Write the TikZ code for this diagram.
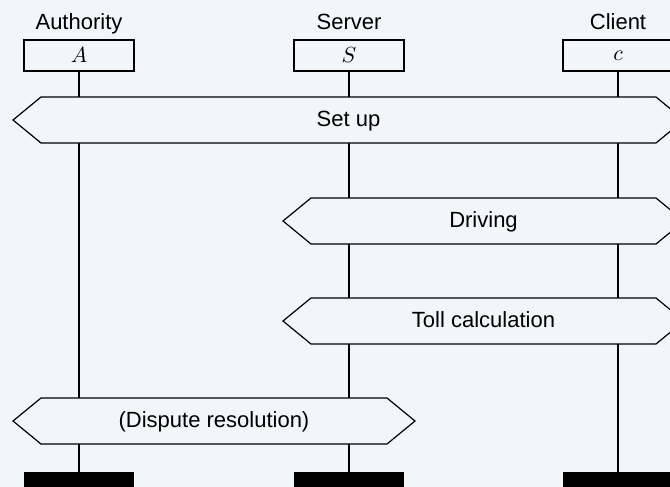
\documentclass[tikz,border=0pt]{standalone}
\usepackage{fontspec}
\setmainfont{Liberation Sans}
\usepackage{tikz}
\usetikzlibrary{calc}
\definecolor{bg}{RGB}{240,246,250}
\tikzset{
  instbox/.style={draw, fill=bg, line width=0.6pt, minimum width=55pt, minimum height=15.5pt, inner sep=0pt},
  instname/.style={inner sep=0pt, anchor=base},
  endbar/.style={fill=black, minimum width=55pt, minimum height=8pt, inner sep=0pt},
  lifeline/.style={line width=0.6pt},
}
% hexagon spanning from tip x #2 to tip x #3, centred at y #4
\def\phase[#1](#2,#3,#4)#5{\draw[line width=0.6pt, fill=bg] (#2,#4) -- (#2+28,#4-23) -- (#3-28,#4-23) -- (#3,#4) -- (#3-28,#4+23) -- (#2+28,#4+23) -- cycle;
  \node[instname] (#1) at ({(#2+#3)/2},#4+6) {#5};}

\begin{document}
\begin{tikzpicture}[x=0.5pt, y=-0.5pt, font=\fontsize{11}{13}\selectfont]
			%%%%% START %%%%%
			\clip (0,0) rectangle (670,487);
			\fill[bg] (0,0) rectangle (670,487);
			
			\node[instname] (authlabel) at (79,29.3) {Authority};
			\node[instname] (servlabel) at (349,29.3) {Server};
			\node[instname] (clilabel) at (618,29.3) {Client};
			
			\node[instbox] (A) at (79,55.5) {$A$};
			\node[instbox] (S) at (349,55.5) {$S$};
			\node[instbox] (C) at (618,55.5) {$c$};
			
			\node[endbar] (Aend) at (79,480) {};
			\node[endbar] (Send) at (349,480) {};
			\node[endbar] (Cend) at (618,480) {};
			
			\draw[lifeline] (A.south) -- (Aend.north);
			\draw[lifeline] (S.south) -- (Send.north);
			\draw[lifeline] (C.south) -- (Cend.north);
			
			\phase[setup](13,684,120){Set up}
			\phase[driving](283,684,221){Driving}
			\phase[toll](283,684,321){Toll calculation}
			\phase[dispute](13,415,421){(Dispute resolution)}
			
			%%%%% END %%%%%
\end{tikzpicture}
\end{document}
